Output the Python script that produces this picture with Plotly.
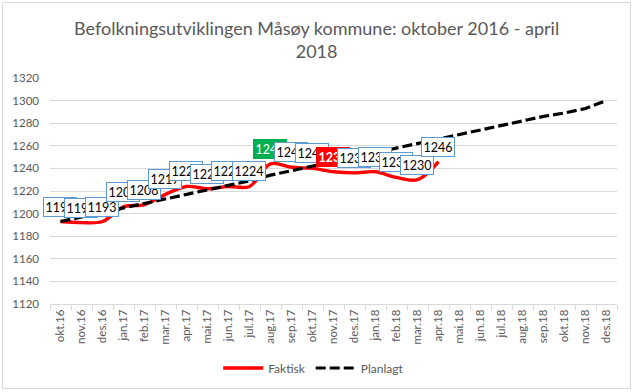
import plotly.graph_objects as go

months = ["okt.16", "nov.16", "des.16", "jan.17", "feb.17", "mar.17", "apr.17", "mai.17", "jun.17",
          "jul.17", "aug.17", "sep.17", "okt.17", "nov.17", "des.17", "jan.18", "feb.18", "mar.18",
          "apr.18", "mai.18", "jun.18", "jul.18", "aug.18", "sep.18", "okt.18", "nov.18", "des.18"]

faktisk = [1193, 1192, 1193, 1206, 1208, 1217, 1224, 1222, 1224, 1224, 1244, 1241, 1240,
           1237, 1236, 1237, 1232, 1230, 1246]

planlagt = [1193, 1197, 1201, 1205, 1209, 1213, 1217, 1221, 1225, 1229, 1234, 1238, 1242, 1246,
            1250, 1254, 1258, 1262, 1266, 1270, 1274, 1278, 1282, 1286, 1289, 1293, 1300]

highlight_max = "aug.17"
highlight_min = "nov.17"

title_text = "Befolkningsutviklingen Måsøy kommune: oktober 2016 - april<br>2018"

GREY = "#595959"
GRID = "#D9D9D9"
FONT = "Lato"

W, H = 633, 392
L, R, T, B = 50, 16, 78, 88
pw, ph = W - L - R, H - T - B

fig = go.Figure()
fig.add_trace(go.Scatter(x=months[:len(faktisk)], y=faktisk, name="Faktisk", mode="lines",
                         line=dict(color="#FF0000", width=3.4, shape="spline", smoothing=1.0)))
fig.add_trace(go.Scatter(x=months, y=planlagt, name="Planlagt", mode="lines",
                         line=dict(color="#000000", width=3.2, dash="10px,4px")))

for m, v in zip(months, faktisk):
    bg, fc, bc, bold = "white", "black", "#5B9BD5", False
    if m == highlight_max:
        bg, fc, bc = "#00B050", "white", "#00B050"
    elif m == highlight_min:
        bg, fc, bc, bold = "#FF0000", "white", "#FF0000", True
    txt = f"<b>{v}</b>" if bold else str(v)
    fig.add_annotation(x=m, y=v, text=txt, showarrow=False, yshift=15, xshift=-1,
                       bgcolor=bg, bordercolor=bc, borderwidth=1, borderpad=1.5,
                       font=dict(family=FONT, size=12.5, color=fc))

# chart title (two lines, centred over the chart area)
fig.add_annotation(text=title_text, xref="paper", yref="paper",
                   x=(316.5 - L) / pw, xanchor="center", y=(H - B - 15) / ph, yanchor="top",
                   showarrow=False, align="center",
                   font=dict(family=FONT, size=18, color=GREY))

fig.add_shape(type="rect", xref="paper", yref="paper",
              x0=(2.5 - L) / pw, x1=(630.5 - L) / pw,
              y0=(H - B - 388.5) / ph, y1=(H - B - 2.5) / ph,
              line=dict(color=GRID, width=1), fillcolor="rgba(0,0,0,0)", layer="below")

fig.update_layout(
    width=W, height=H,
    margin=dict(l=L, r=R, t=T, b=B, autoexpand=False),
    paper_bgcolor="white", plot_bgcolor="white",
    xaxis=dict(type="category", categoryorder="array", categoryarray=months,
               tickangle=-90, tickfont=dict(family=FONT, size=11.5, color=GREY),
               showgrid=False, showline=True, linecolor=GRID, linewidth=1,
               ticks="outside", tickson="boundaries", ticklen=5, tickcolor=GRID,
               range=[-0.5, len(months) - 0.5], automargin=False),
    yaxis=dict(range=[1120, 1320], dtick=20, tickfont=dict(family=FONT, size=11.5, color=GREY),
               showgrid=True, gridcolor=GRID, gridwidth=1, zeroline=False, showline=False,
               ticks="", ticklabelstandoff=10, automargin=False),
    legend=dict(orientation="h", x=0.465, xanchor="center", y=(H - 368) / H, yref="container",
                yanchor="middle", itemwidth=40, tracegroupgap=0,
                font=dict(family=FONT, size=12, color=GREY), bgcolor="rgba(0,0,0,0)"),
    showlegend=True,
)

fig.write_html("out.html", config={"displayModeBar": False},
               post_script="document.body.style.margin='0';document.body.style.overflow='hidden';")
